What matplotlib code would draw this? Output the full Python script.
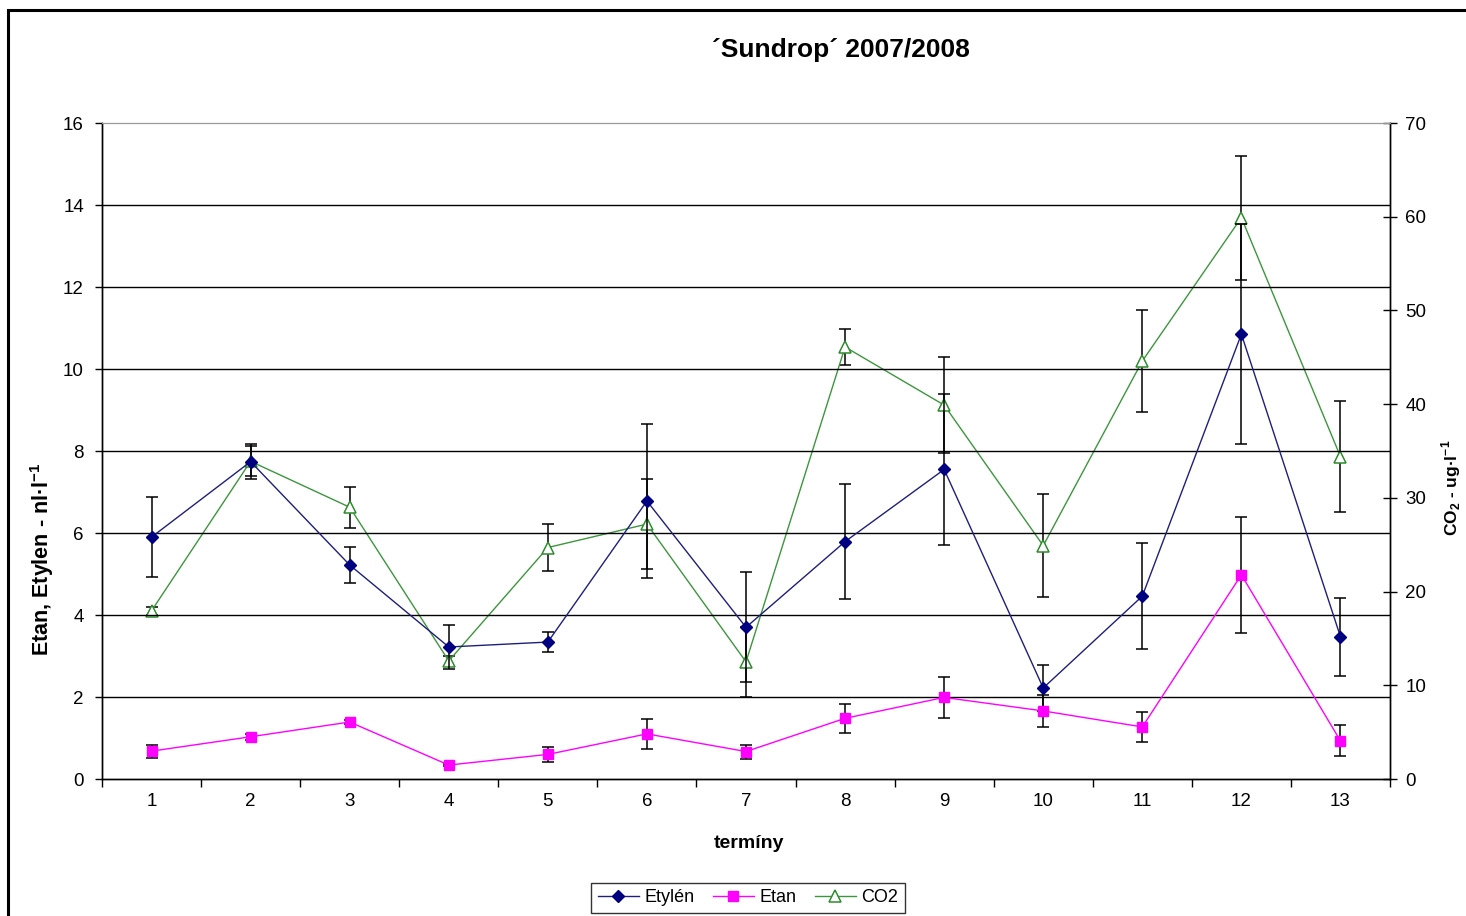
import matplotlib
matplotlib.use("Agg")
import matplotlib.pyplot as plt
from matplotlib.patches import Rectangle
from matplotlib.lines import Line2D

plt.rcParams['font.family'] = ['Liberation Sans', 'DejaVu Sans']
plt.rcParams['mathtext.fontset'] = 'custom'
plt.rcParams['mathtext.rm'] = 'Liberation Sans'
plt.rcParams['mathtext.bf'] = 'Liberation Sans:bold'

# Sampling dates (termíny)
terms = [1, 2, 3, 4, 5, 6, 7, 8, 9, 10, 11, 12, 13]

# Ethylene, nl/l
etylen = [5.90, 7.74, 5.22, 3.22, 3.34, 6.78, 3.70, 5.79, 7.55, 2.22, 4.46, 10.85, 3.47]
etylen_err = [0.97, 0.43, 0.45, 0.54, 0.25, 1.88, 1.34, 1.41, 1.84, 0.57, 1.30, 2.68, 0.95]

# Ethane, nl/l
etan = [0.68, 1.03, 1.39, 0.34, 0.60, 1.10, 0.67, 1.48, 1.99, 1.66, 1.27, 4.98, 0.93]
etan_err = [0.16, 0.07, 0.05, 0.03, 0.18, 0.36, 0.17, 0.35, 0.50, 0.40, 0.37, 1.41, 0.38]

# CO2, ug/l (secondary axis)
co2 = [17.95, 33.9, 29.0, 12.6, 24.7, 27.2, 12.5, 46.1, 39.9, 24.9, 44.6, 59.9, 34.4]
co2_err = [0.4, 1.6, 2.2, 0.5, 2.5, 4.8, 3.7, 1.96, 5.16, 5.5, 5.45, 6.6, 5.9]

left_ticks = [0, 2, 4, 6, 8, 10, 12, 14, 16]
right_ticks = [0, 10, 20, 30, 40, 50, 60, 70]

W, H = 1466, 916
fig = plt.figure(figsize=(W / 100, H / 100), dpi=100)
fig.patch.set_facecolor('white')

# chart-area frame
fig.patches.append(Rectangle((8 / W, -0.05), 1.2, 1 - 10 / H + 0.05,
                             transform=fig.transFigure, fill=False,
                             edgecolor='black', linewidth=2.2, zorder=0))

ax = fig.add_axes([102 / W, 1 - 779 / H, (1390 - 102) / W, (779 - 123) / H])
ax2 = ax.twinx()

# horizontal gridlines
for v in left_ticks[1:-1]:
    ax.axhline(v, color='black', linewidth=1.0, zorder=0)

ax.set_xlim(0.5, 13.5)
ax.set_ylim(0, 16)
ax2.set_ylim(0, 70)

eb_kw = dict(ecolor='black', elinewidth=1.1, capsize=4, capthick=1.1)

st_etylen = dict(color='#1f1f7a', linewidth=1.0, marker='D', markersize=6.5,
                 markerfacecolor='#000080', markeredgecolor='#000080')
st_etan = dict(color='#ff00ff', linewidth=1.0, marker='s', markersize=7.5,
               markerfacecolor='#ff00ff', markeredgecolor='#ff00ff')
st_co2 = dict(color='#3c963c', linewidth=1.0, marker='^', markersize=8,
              markerfacecolor='white', markeredgecolor='#2e8b2e', markeredgewidth=1.1)

ax.errorbar(terms, etylen, yerr=etylen_err, zorder=3, **st_etylen, **eb_kw)
ax.errorbar(terms, etan, yerr=etan_err, zorder=3, **st_etan, **eb_kw)
ax2.errorbar(terms, co2, yerr=co2_err, zorder=3, **st_co2, **eb_kw)

# spines
for a in (ax, ax2):
    for s in ['left', 'bottom', 'right']:
        a.spines[s].set_color('black')
        a.spines[s].set_linewidth(1.0)
    a.spines['top'].set_color('#999999')

# x axis: category labels centred, tick marks between categories
ax.set_xticks([i + 0.5 for i in range(0, 14)])
ax.set_xticklabels([])
ax.set_xticks(terms, minor=True)
ax.set_xticklabels([str(t) for t in terms], minor=True)
ax.tick_params(axis='x', which='major', direction='out', length=6, width=1)
ax.tick_params(axis='x', which='minor', length=0, pad=10, labelsize=13.5)

ax.set_yticks(left_ticks)
ax.tick_params(axis='y', direction='out', length=5, width=1, pad=8, labelsize=13.5)
ax2.set_yticks(right_ticks)
ax2.tick_params(axis='y', direction='inout', length=10, width=1, pad=6, labelsize=13.5)

ax.set_zorder(ax2.get_zorder() + 1)
ax.patch.set_visible(False)

fig.text(841 / W, 1 - 50 / H, '´Sundrop´ 2007/2008', ha='center', va='center',
         fontsize=19, fontweight='bold')
fig.text(42 / W, 1 - 559 / H, 'Etan, Etylen - nl·l$^{\\mathbf{-1}}$', ha='center', va='center',
         rotation=90, fontsize=15.5, fontweight='bold')
fig.text(1451 / W, 1 - 488 / H, 'CO$_\\mathbf{2}$ - ug·l$^{\\mathbf{-1}}$', ha='center', va='center',
         rotation=90, fontsize=12.5, fontweight='bold')
fig.text(749 / W, 1 - 843 / H, 'termíny', ha='center', va='center',
         fontsize=14, fontweight='bold')

handles = [Line2D([], [], **st_etylen), Line2D([], [], **st_etan), Line2D([], [], **st_co2)]
leg = fig.legend(handles, ['Etylén', 'Etan', 'CO2'], loc='center',
                 bbox_to_anchor=(748 / W, 1 - 898 / H), ncol=3, fontsize=13,
                 frameon=True, fancybox=False, edgecolor='black',
                 handlelength=2.3, handletextpad=0.3, columnspacing=1.0,
                 borderpad=0.35, borderaxespad=0)
leg.get_frame().set_linewidth(1.0)

fig.savefig('out.png', dpi=100)
